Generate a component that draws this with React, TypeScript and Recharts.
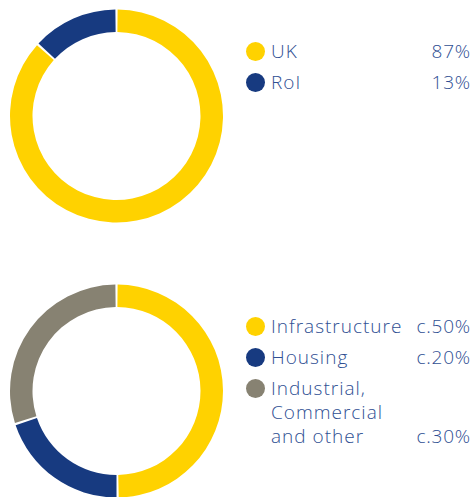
import { Cell, Pie, PieChart } from 'recharts';

const regionNames = ['UK', 'RoI'];
const regionShares = [87, 13];
const regionLabels = ['87%', '13%'];

const sectorNames = ['Infrastructure', 'Housing', 'Industrial,\nCommercial\nand other'];
const sectorShares = [50, 20, 30];
const sectorLabels = ['c.50%', 'c.20%', 'c.30%'];

const YELLOW = '#ffd200';
const BLUE = '#173a80';
const GREY = '#878272';
const TEXT = '#2f4f93';

const regionColors = [YELLOW, BLUE];
const sectorColors = [YELLOW, BLUE, GREY];

const regionData = regionNames.map((name, i) => ({ name, value: regionShares[i] }));
const sectorData = sectorNames.map((name, i) => ({ name, value: sectorShares[i] }));

interface LegendProps {
  names: string[];
  labels: string[];
  colors: string[];
  top: number;
}

const SideLegend = ({ names, labels, colors, top }: LegendProps) => (
  <div style={{ position: 'absolute', left: 246, top, width: 225 }}>
    {names.map((name, i) => {
      const lines = name.split('\n');
      return (
        <div key={name} style={{ position: 'relative', marginBottom: 7 }}>
          <span
            style={{
              position: 'absolute',
              left: 0,
              top: 3,
              width: 19,
              height: 19,
              borderRadius: '50%',
              background: colors[i],
            }}
          />
          <div style={{ marginLeft: 25, lineHeight: '24px' }}>
            {lines.map((ln, j) => (
              <div key={j}>{ln}</div>
            ))}
          </div>
          <span style={{ position: 'absolute', right: 0, bottom: 0, lineHeight: '24px', letterSpacing: 0.8 }}>
            {labels[i]}
          </span>
        </div>
      );
    })}
  </div>
);

export default function App() {
  return (
    <div
      style={{
        position: 'absolute',
        left: 0,
        top: 0,
        width: 475,
        height: 497,
        background: '#fff',
        fontFamily: '"Open Sans", sans-serif',
        fontWeight: 300,
        fontSize: 19,
        letterSpacing: 1,
        color: TEXT,
      }}
    >
      <PieChart
        width={475}
        height={497}
        margin={{ top: 0, right: 0, bottom: 0, left: 0 }}
        style={{ position: 'absolute', left: 0, top: 0 }}
      >
        <Pie
          data={regionData}
          dataKey="value"
          cx={116.5}
          cy={116}
          innerRadius={84}
          outerRadius={106.5}
          startAngle={89.4}
          endAngle={-270.6}
          paddingAngle={1.2}
          stroke="none"
          isAnimationActive={false}
        >
          {regionData.map((d, i) => (
            <Cell key={d.name} fill={regionColors[i]} />
          ))}
        </Pie>
        <Pie
          data={sectorData}
          dataKey="value"
          cx={116.5}
          cy={391}
          innerRadius={84}
          outerRadius={106.5}
          startAngle={89.4}
          endAngle={-270.6}
          paddingAngle={1.2}
          stroke="none"
          isAnimationActive={false}
        >
          {sectorData.map((d, i) => (
            <Cell key={d.name} fill={sectorColors[i]} />
          ))}
        </Pie>
      </PieChart>
      <SideLegend names={regionNames} labels={regionLabels} colors={regionColors} top={39} />
      <SideLegend names={sectorNames} labels={sectorLabels} colors={sectorColors} top={314} />
    </div>
  );
}
